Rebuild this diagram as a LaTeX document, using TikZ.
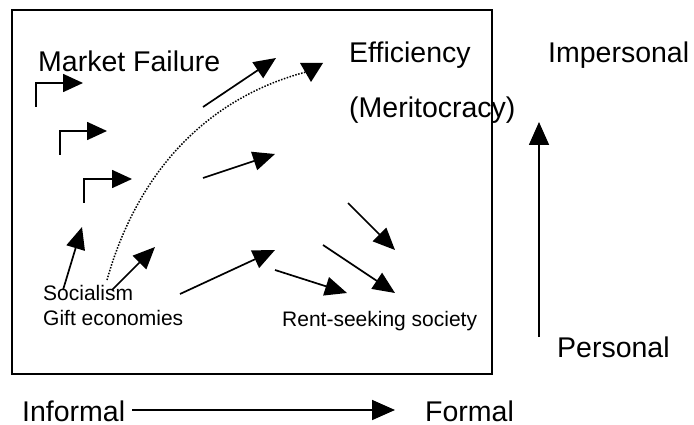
\documentclass[tikz,border=0pt]{standalone}
\usepackage{fontspec}
\setmainfont{Liberation Sans}
\usetikzlibrary{arrows.meta}
\begin{document}
\begin{tikzpicture}[x=1pt,y=-1pt]
\tikzstyle{big}=[anchor=base west,inner sep=0pt,font=\fontsize{28.5}{30}\selectfont]
\tikzstyle{small}=[anchor=base west,inner sep=0pt,font=\fontsize{21}{24}\selectfont]
\tikzstyle{edge}=[line width=1.7pt,-{Triangle[length=22pt,width=19pt]}]
\tikzstyle{bent}=[line width=1.7pt,-{Triangle[length=20pt,width=18pt]}]
\tikzstyle{axis}=[line width=1.7pt,-{Triangle[length=23pt,width=20pt]}]
\tikzstyle{dots}=[line width=1.5pt,dash pattern=on 1.5pt off 1.5pt]
\useasboundingbox (0,0) rectangle (694,425);
\draw[line width=1.8pt] (12,10) rectangle (492,374);
% labels
\node[big] (mf) at (38,72) {Market Failure};
\node[big] (eff) at (349,63) {Efficiency};
\node[big] (mer) at (349,118) {(Meritocracy)};
\node[big] (imp) at (548,63) {Impersonal};
\node[big] (per) at (557,357) {Personal};
\node[big] (inf) at (22,421) {Informal};
\node[big] (for) at (425,421) {Formal};
\node[small] (soc) at (43,300) {Socialism};
\node[small] (gift) at (43,325) {Gift economies};
\node[small] (rent) at (282,326) {Rent-seeking society};
% end points
\coordinate (b1) at (36,107);
\coordinate (b1t) at (83,83);
\coordinate (b2) at (60,155);
\coordinate (b2t) at (107,131);
\coordinate (b3) at (84,203);
\coordinate (b3t) at (132,179);
\coordinate (a1) at (203,107);
\coordinate (a1t) at (276,58);
\coordinate (a2) at (203,178);
\coordinate (a2t) at (275,154);
\coordinate (a3) at (63,290);
\coordinate (a3t) at (82,227);
\coordinate (a4) at (112,290);
\coordinate (a4t) at (155,247);
\coordinate (a5) at (180,294);
\coordinate (a5t) at (275,250);
\coordinate (a6) at (275,270);
\coordinate (a6t) at (347,293);
\coordinate (a7) at (348,203);
\coordinate (a7t) at (395,250);
\coordinate (a8) at (323,245);
\coordinate (a8t) at (395,293);
\coordinate (d0) at (107,280);
\coordinate (d1) at (306,72);
\coordinate (h0) at (132,410);
\coordinate (h1) at (395,410);
\coordinate (v0) at (539,337);
\coordinate (v1) at (539,122);
% arrows
\draw[bent] (b1) |- (b1t);
\draw[bent] (b2) |- (b2t);
\draw[bent] (b3) |- (b3t);
\draw[edge] (a1) -- (a1t);
\draw[edge] (a2) -- (a2t);
\draw[edge] (a3) -- (a3t);
\draw[edge] (a4) -- (a4t);
\draw[edge] (a5) -- (a5t);
\draw[edge] (a6) -- (a6t);
\draw[edge] (a7) -- (a7t);
\draw[edge] (a8) -- (a8t);
\draw[dots] (d0) .. controls (135,180) and (200,100) .. (d1);
\fill (d1) ++(-6,-9) -- ++(23,0) -- ++(-12,19) -- cycle;
\draw[axis] (h0) -- (h1);
\draw[axis] (v0) -- (v1);
\end{tikzpicture}
\end{document}
